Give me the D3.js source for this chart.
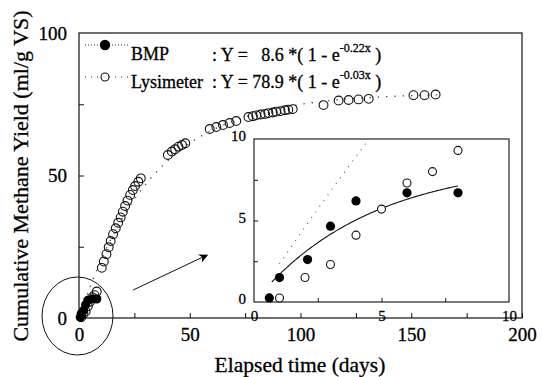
<!DOCTYPE html>
<html><head><meta charset="utf-8">
<script src="https://cdn.jsdelivr.net/npm/d3@7"></script>
<style>
html,body{margin:0;padding:0;background:#fff;}
svg{display:block;}
svg text{font-family:"Liberation Serif","DejaVu Serif","Noto Serif",serif !important;fill:#000;stroke:#000;stroke-width:0.3px;}
</style></head><body>
<svg id="c" width="543" height="377"></svg>
<script>
// ---- data ----
const bmpDays   = [0.6, 1, 2.1, 3, 4, 6, 8];
const bmpValues = [0.25, 1.5, 2.6, 4.65, 6.2, 6.7, 6.7];
const lysDays   = [1,2,3,4,5,6,7,8,
  10.3,11.2,12.4,13.4,14.3,15.4,16.6,17.7,18.8,19.8,20.8,21.9,23.1,24.3,25.3,26.8,27.9,
  40.1,41.9,43.4,44.9,46.5,48.0,
  59,62,65,68,71,
  76.5,78.5,80,82,84,85.5,87.5,89,91,93,94.5,96.5,
  110.4,117.2,121.7,126.2,130.8,
  151,156,161];
const lysValues = [0.25,1.5,2.3,4.1,5.7,7.3,8.0,9.3,
  17.6,19.8,22.4,24.8,27.0,29.4,31.5,33.4,35.3,37.3,39.3,41.2,43.2,44.9,46.3,47.8,49.0,
  57.2,58.4,59.2,60.1,60.7,61.3,
  66.3,67.0,67.7,68.4,69.1,
  70.5,70.8,71.1,71.4,71.6,71.9,72.1,72.4,72.6,72.9,73.1,73.3,
  74.7,76.3,76.5,76.7,76.9,
  78.2,78.2,78.4];
const bmpFit = [8.6, 0.22];   // Y = a*(1-e^(-k x))
const lysFit = [78.9, 0.03];
const xTicks = [0,25,50,75,100,125,150,175,200];
const yTicks = [0,25,50,75,100];
const xTickLabels = [0,50,100,150,200];
const yTickLabels = [0,50,100];
const insetTicks = [0,2.5,5,7.5,10];
const insetLabels = [0,5,10];
const arrowFrom = [24.4, 9.8];
const arrowTo = [57.9, 22.1];

// ---- layout ----
const svg = d3.select("#c");
const x = d3.scaleLinear().domain([0,200]).range([79,522]);
const y = d3.scaleLinear().domain([0,100]).range([318,33]);
const xi = d3.scaleLinear().domain([0,10]).range([254,509]);
const yi = d3.scaleLinear().domain([0,10]).range([302,139]);
const fit = (p) => (t) => p[0]*(1-Math.exp(-p[1]*t));

svg.append("defs").append("marker").attr("id","ah").attr("viewBox","0 0 10 10")
  .attr("refX",9).attr("refY",5).attr("markerWidth",12).attr("markerHeight",9)
  .attr("markerUnits","userSpaceOnUse").attr("orient","auto")
  .append("path").attr("d","M0,0L10,5L0,10L3,5Z").attr("fill","#000");
svg.select("defs").append("clipPath").attr("id","ic").append("rect")
  .attr("x",xi(0)).attr("y",yi(10)).attr("width",xi(10)-xi(0)).attr("height",yi(0)-yi(10));

// main frame
svg.append("rect").attr("x",x(0)).attr("y",y(100)).attr("width",x(200)-x(0)).attr("height",y(0)-y(100))
  .attr("fill","none").attr("stroke","#111").attr("stroke-width",1.2);

const gx = svg.append("g").attr("transform",`translate(0,${y(0)})`)
  .call(d3.axisBottom(x).tickValues(xTicks).tickSizeInner(-5).tickSizeOuter(0).tickPadding(10)
    .tickFormat(d => xTickLabels.includes(d) ? d : ""));
const gy = svg.append("g").attr("transform",`translate(${x(0)},0)`)
  .call(d3.axisLeft(y).tickValues(yTicks).tickSizeInner(-5).tickSizeOuter(0).tickPadding(12)
    .tickFormat(d => yTickLabels.includes(d) ? d : ""));
[gx,gy].forEach(g=>{g.select(".domain").remove(); g.attr("font-family",null);
  g.selectAll("text").attr("font-size",19).attr("fill","#000");
  g.selectAll("line").attr("stroke","#111");});
gx.selectAll(".tick").filter(d=>d===0).select("line").remove();
gy.selectAll(".tick").filter(d=>d===0||d===100).select("line").remove();

// axis titles
svg.append("text").attr("x",300).attr("y",372).attr("text-anchor","middle")
  .attr("font-size",21.5).text("Elapsed time (days)");
svg.append("text").attr("transform","translate(28,176) rotate(-90)").attr("text-anchor","middle")
  .attr("font-size",22).text("Cumulative Methane Yield (ml/g VS)");

// main fit curves
const line = d3.line().x(d=>x(d[0])).y(d=>y(d[1]));
const lysCurve = d3.range(0,163,0.5).map(t=>[t,fit(lysFit)(t)]);
svg.append("path").attr("d",line(lysCurve)).attr("fill","none").attr("stroke","#444")
  .attr("stroke-width",1.3).attr("stroke-dasharray","1.3,7");
const bmpCurve = d3.range(0,10.01,0.25).map(t=>[t,fit(bmpFit)(t)]);
svg.append("path").attr("d",line(bmpCurve)).attr("fill","none").attr("stroke","#444")
  .attr("stroke-width",1.2).attr("stroke-dasharray","1.2,4");

// main points
svg.append("g").selectAll("circle").data(lysDays.map((d,i)=>[d,lysValues[i]])).join("circle")
  .attr("cx",d=>x(d[0])).attr("cy",d=>y(d[1])).attr("r",4.4)
  .attr("fill","none").attr("stroke","#111").attr("stroke-width",1.1);
svg.append("g").selectAll("circle").data(bmpDays.map((d,i)=>[d,bmpValues[i]])).join("circle")
  .attr("cx",d=>x(d[0])).attr("cy",d=>y(d[1])).attr("r",4.6).attr("fill","#000");

// ellipse + arrow
svg.append("ellipse").attr("cx",x(0)-1.5).attr("cy",y(0)-2).attr("rx",35.5).attr("ry",39)
  .attr("fill","none").attr("stroke","#111").attr("stroke-width",1);
svg.append("line").attr("x1",x(arrowFrom[0])).attr("y1",y(arrowFrom[1]))
  .attr("x2",x(arrowTo[0])).attr("y2",y(arrowTo[1])).attr("stroke","#111").attr("stroke-width",1)
  .attr("marker-end","url(#ah)");

// legend
const lg = svg.append("g");
lg.append("line").attr("x1",85).attr("x2",128).attr("y1",45).attr("y2",45)
  .attr("stroke","#333").attr("stroke-width",1).attr("stroke-dasharray","1,2");
lg.append("circle").attr("cx",105).attr("cy",45).attr("r",5.2).attr("fill","#000");
lg.append("line").attr("x1",85).attr("x2",128).attr("y1",77).attr("y2",77)
  .attr("stroke","#333").attr("stroke-width",1).attr("stroke-dasharray","1,5");
lg.append("circle").attr("cx",105).attr("cy",77).attr("r",4).attr("fill","#fff")
  .attr("stroke","#111").attr("stroke-width",1.1);
lg.append("text").attr("x",131).attr("y",60).attr("font-size",18).text("BMP");
lg.append("text").attr("x",131).attr("y",88).attr("font-size",18).text("Lysimeter");
function eq(yb, a, k){
  const t = lg.append("text").attr("x",212).attr("y",yb).attr("font-size",18).style("white-space","pre");
  t.append("tspan").text(": Y = " + (a<10 ? "  " : "") + a + " *( 1 - e");
  t.append("tspan").attr("font-size",12).attr("dy",-9).text("-" + k + "x");
  t.append("tspan").attr("dy",9).text(" )");
}
eq(61, bmpFit[0], bmpFit[1]);
eq(88, lysFit[0], lysFit[1]);

// ---- inset ----
const ins = svg.append("g");
ins.append("rect").attr("x",xi(0)).attr("y",yi(10)).attr("width",xi(10)-xi(0)).attr("height",yi(0)-yi(10))
  .attr("fill","#fff").attr("stroke","#111").attr("stroke-width",1.1);
const gxi = ins.append("g").attr("transform",`translate(0,${yi(0)})`)
  .call(d3.axisBottom(xi).tickValues(insetTicks).tickSizeInner(-4).tickSizeOuter(0).tickPadding(8)
    .tickFormat(d => insetLabels.includes(d) ? d : ""));
const gyi = ins.append("g").attr("transform",`translate(${xi(0)},0)`)
  .call(d3.axisLeft(yi).tickValues(insetTicks).tickSizeInner(-4).tickSizeOuter(0).tickPadding(8)
    .tickFormat(d => insetLabels.includes(d) ? d : ""));
[gxi,gyi].forEach(g=>{g.select(".domain").remove(); g.attr("font-family",null);
  g.selectAll("text").attr("font-size",15).attr("fill","#000");
  g.selectAll("line").attr("stroke","#111");});
gyi.selectAll("text").attr("dy","0.12em");
gxi.selectAll(".tick").filter(d=>d===0||d===10).select("line").remove();
gyi.selectAll(".tick").filter(d=>d===0||d===10).select("line").remove();

const linei = d3.line().x(d=>xi(d[0])).y(d=>yi(d[1]));
ins.append("path").attr("clip-path","url(#ic)")
  .attr("d",linei(d3.range(1,5,0.05).map(t=>[t,fit(lysFit)(t)])))
  .attr("fill","none").attr("stroke","#555").attr("stroke-width",1.1).attr("stroke-dasharray","1,6");
ins.append("path").attr("d",linei(d3.range(0.7,8.01,0.05).map(t=>[t,fit(bmpFit)(t)])))
  .attr("fill","none").attr("stroke","#111").attr("stroke-width",1.1);
ins.append("g").selectAll("circle").data(lysDays.map((d,i)=>[d,lysValues[i]]).filter(d=>d[0]<=10 && d[1]<=10)).join("circle")
  .attr("cx",d=>xi(d[0])).attr("cy",d=>yi(d[1])).attr("r",4)
  .attr("fill","#fff").attr("stroke","#111").attr("stroke-width",1.1);
ins.append("g").selectAll("circle").data(bmpDays.map((d,i)=>[d,bmpValues[i]])).join("circle")
  .attr("cx",d=>xi(d[0])).attr("cy",d=>yi(d[1])).attr("r",4.6).attr("fill","#000");
</script>
</body></html>
